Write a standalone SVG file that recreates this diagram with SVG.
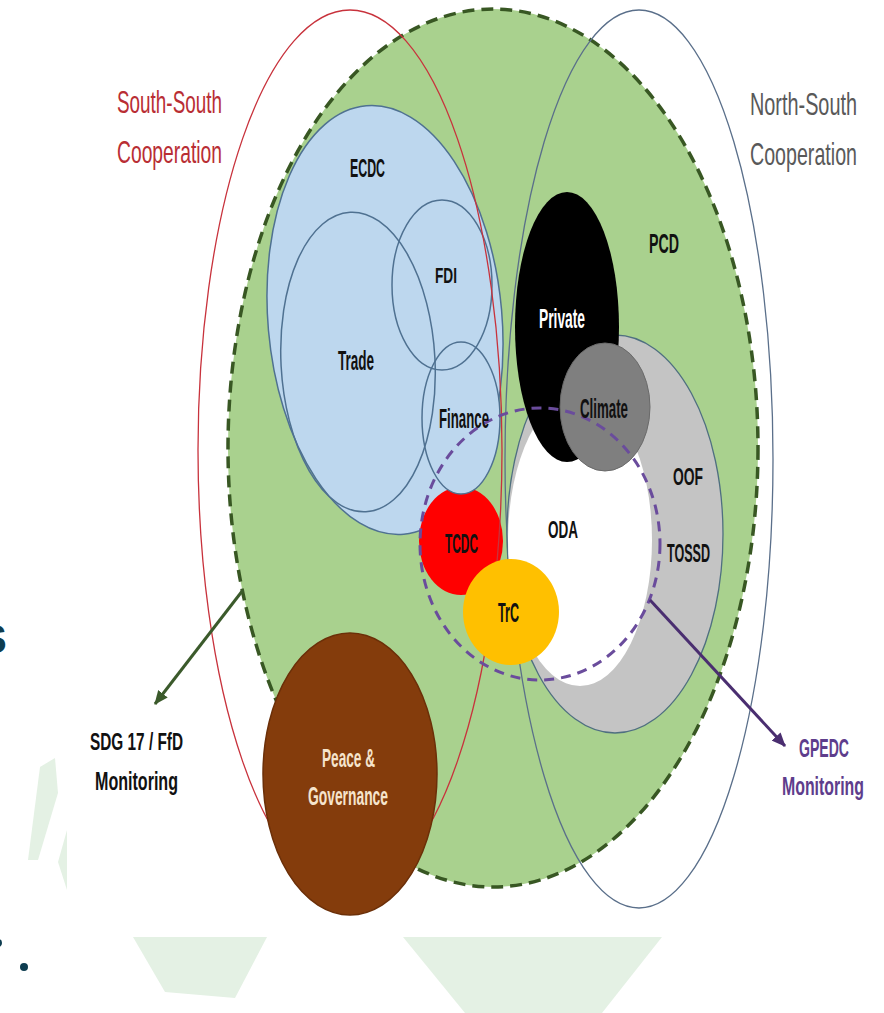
<svg xmlns="http://www.w3.org/2000/svg" width="884" height="1013" viewBox="0 0 884 1013">
<defs>
<style>
.lbl{font-family:"Liberation Sans",Arial,sans-serif;font-weight:bold;fill:#111;text-anchor:start}
.cap{font-family:"Liberation Sans",Arial,sans-serif;font-weight:normal}
.blue{fill:#bdd7ee;stroke:#4f7191;stroke-width:1.5}
.ring{fill:none;stroke:#4f7191;stroke-width:1.5}
.faint{fill:#e4f1e4}
</style>
<marker id="ahG" markerUnits="userSpaceOnUse" markerWidth="14" markerHeight="12" refX="13" refY="6" orient="auto">
<path d="M0,0 L14,6 L0,12 z" fill="#3b5a2b"/>
</marker>
<marker id="ahP" markerUnits="userSpaceOnUse" markerWidth="14" markerHeight="12" refX="13" refY="6" orient="auto">
<path d="M0,0 L14,6 L0,12 z" fill="#4a2e70"/>
</marker>
</defs>
<rect x="0" y="0" width="884" height="1013" fill="#ffffff"/>
<g id="background">
<polygon class="faint" points="40,767 55,758 58,793 38,860 28,860"/>
<polygon class="faint" points="67,830 58,862 67,890"/>
<polygon class="faint" points="133,937 267,937 235,998 165,992"/>
<polygon class="faint" points="403,937 662,937 602,1013 465,1013"/>
<text x="-20" y="653" font-family="Liberation Sans,Arial,sans-serif" font-weight="bold" font-size="40" fill="#0e3d50">S</text>
<circle cx="24" cy="967" r="4" fill="#0e3d50"/>
<circle cx="-2" cy="943" r="4" fill="#0e3d50"/>
</g>
<g id="pcd">
<ellipse cx="493" cy="448" rx="265" ry="439" fill="#a9d18e" stroke="#385723" stroke-width="3.5" stroke-dasharray="12 7"/>
</g>
<g id="ecdc">
<ellipse class="blue" cx="385" cy="320" rx="117" ry="215" transform="rotate(-5 385 320)"/>
</g>
<g id="tcdc">
<ellipse cx="461" cy="541" rx="42" ry="54" fill="#ff0000"/>
</g>
<g id="finance-fill">
<ellipse cx="461" cy="418" rx="39" ry="76" fill="#bdd7ee"/>
</g>
<g id="trade"><ellipse class="ring" cx="358" cy="362" rx="77" ry="150" transform="rotate(-3 358 362)"/></g>
<g id="fdi"><ellipse class="ring" cx="442" cy="285" rx="50" ry="85"/></g>
<g id="finance"><ellipse class="ring" cx="461" cy="418" rx="39" ry="76"/></g>
<g id="south-south-ring"><ellipse cx="350" cy="450" rx="152" ry="440" fill="none" stroke="#c8323c" stroke-width="1.3"/></g>
<g id="north-south-ring"><ellipse cx="639" cy="459" rx="134" ry="449" fill="none" stroke="#5a6f8a" stroke-width="1.3"/></g>
<g id="tossd"><ellipse cx="615" cy="534" rx="108" ry="199" fill="#c4c4c4" stroke="#4f6f80" stroke-width="1.3"/></g>
<g id="oda"><ellipse cx="580" cy="540" rx="72" ry="146" fill="#ffffff"/></g>
<g id="private"><ellipse cx="567" cy="327" rx="52" ry="135" fill="#000000"/></g>
<g id="climate"><ellipse cx="605" cy="407" rx="45" ry="64" fill="#7f7f7f" stroke="#6a6a6a" stroke-width="1"/></g>
<g id="trc"><ellipse cx="511" cy="612" rx="48" ry="53" fill="#ffc000"/></g>
<g id="peace"><ellipse cx="350" cy="774" rx="87" ry="141" fill="#843c0c" stroke="#6b2f08" stroke-width="1.5"/></g>
<g id="gpedc-ring"><ellipse cx="540" cy="544" rx="120" ry="136" fill="none" stroke="#6a4c9c" stroke-width="3" stroke-dasharray="10 7"/></g>
<g id="connectors">
<line x1="243" y1="590" x2="155" y2="704" stroke="#3b5a2b" stroke-width="3" marker-end="url(#ahG)"/>
<line x1="650" y1="600" x2="785" y2="746" stroke="#4a2e70" stroke-width="3" marker-end="url(#ahP)"/>
</g>
<g id="labels">
<text class="cap" x="117" y="113" font-size="32" fill="#b92e34" textLength="105" lengthAdjust="spacingAndGlyphs">South-South</text>
<text class="cap" x="117" y="163" font-size="32" fill="#b92e34" textLength="105" lengthAdjust="spacingAndGlyphs">Cooperation</text>
<text class="cap" x="750" y="115" font-size="32" fill="#595959" textLength="107" lengthAdjust="spacingAndGlyphs">North-South</text>
<text class="cap" x="750" y="165" font-size="32" fill="#595959" textLength="107" lengthAdjust="spacingAndGlyphs">Cooperation</text>
<text class="lbl" x="350" y="177" font-size="25" textLength="35" lengthAdjust="spacingAndGlyphs">ECDC</text>
<text class="lbl" x="435" y="283" font-size="22" textLength="22" lengthAdjust="spacingAndGlyphs">FDI</text>
<text class="lbl" x="338" y="370" font-size="27" textLength="36" lengthAdjust="spacingAndGlyphs">Trade</text>
<text class="lbl" x="439" y="428" font-size="27" textLength="50" lengthAdjust="spacingAndGlyphs">Finance</text>
<text class="lbl" x="539" y="328" font-size="27" style="fill:#ffffff" textLength="46" lengthAdjust="spacingAndGlyphs">Private</text>
<text class="lbl" x="649" y="253" font-size="27" textLength="30" lengthAdjust="spacingAndGlyphs">PCD</text>
<text class="lbl" x="580" y="418" font-size="27" textLength="48" lengthAdjust="spacingAndGlyphs">Climate</text>
<text class="lbl" x="548" y="538" font-size="24" textLength="30" lengthAdjust="spacingAndGlyphs">ODA</text>
<text class="lbl" x="673" y="485" font-size="24" textLength="30" lengthAdjust="spacingAndGlyphs">OOF</text>
<text class="lbl" x="667" y="562" font-size="25" textLength="43" lengthAdjust="spacingAndGlyphs">TOSSD</text>
<text class="lbl" x="445" y="553" font-size="27" textLength="33" lengthAdjust="spacingAndGlyphs">TCDC</text>
<text class="lbl" x="498" y="622" font-size="28" textLength="21" lengthAdjust="spacingAndGlyphs">TrC</text>
<text class="lbl" x="90" y="750" font-size="24" textLength="93" lengthAdjust="spacingAndGlyphs">SDG 17 / FfD</text>
<text class="lbl" x="95" y="790" font-size="26" textLength="83" lengthAdjust="spacingAndGlyphs">Monitoring</text>
<text class="lbl" x="322" y="767" font-size="25" style="fill:#f6e4cc" textLength="53" lengthAdjust="spacingAndGlyphs">Peace &amp;</text>
<text class="lbl" x="308" y="805" font-size="25" style="fill:#f6e4cc" textLength="80" lengthAdjust="spacingAndGlyphs">Governance</text>
<text class="lbl" x="799" y="757" font-size="26" style="fill:#5e3d8c" textLength="50" lengthAdjust="spacingAndGlyphs">GPEDC</text>
<text class="lbl" x="782" y="795" font-size="26" style="fill:#5e3d8c" textLength="82" lengthAdjust="spacingAndGlyphs">Monitoring</text>
</g>
</svg>
